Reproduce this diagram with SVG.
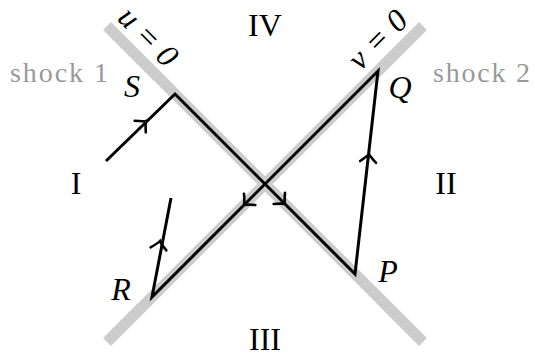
<svg xmlns="http://www.w3.org/2000/svg" xmlns:xlink="http://www.w3.org/1999/xlink" width="535" height="360" viewBox="0 0 535 360">
<style>
.band{stroke:#cccccc;stroke-width:11;fill:none}
.path{stroke:#000;stroke-width:3;fill:none;stroke-linejoin:miter;stroke-linecap:butt}
.ah{stroke:#000;stroke-width:2.6;fill:none;stroke-linecap:round}
.lab{font-family:'Liberation Serif','Times New Roman','DejaVu Serif',serif;font-size:32px;fill:#000}
.it{font-style:italic}
.shock{font-family:'Liberation Serif','Times New Roman','DejaVu Serif',serif;font-size:28px;fill:#999999}
</style>
<defs>
<path id="ah" d="M-8,-8 Q-2.5,-1.5 0,0 Q-2.5,1.5 -8,8"/>
</defs>
<g id="bands">
<line class="band" x1="107" y1="26" x2="423" y2="342"/>
<line class="band" x1="107" y1="342" x2="423" y2="26"/>
</g>
<g id="connectors">
<polyline class="path" points="106,161 175,94 355,274 378,71 152,297 171,198"/>
<g class="ah">
<use xlink:href="#ah" transform="translate(146,121) rotate(-44)"/>
<use xlink:href="#ah" transform="translate(285,204) rotate(45)"/>
<use xlink:href="#ah" transform="translate(244,205) rotate(135)"/>
<use xlink:href="#ah" transform="translate(369,154) rotate(-83.5)"/>
<use xlink:href="#ah" transform="translate(160,241) rotate(-79)"/>
</g>
</g>
<g id="shock1"><text class="shock" x="10" y="82" textLength="98" lengthAdjust="spacing">shock 1</text></g>
<g id="shock2"><text class="shock" x="433" y="82" textLength="97" lengthAdjust="spacing">shock 2</text></g>
<g id="u0"><text class="lab it" transform="translate(148,37) rotate(45)" x="0" y="10" text-anchor="middle" textLength="70" lengthAdjust="spacing">u = 0</text></g>
<g id="v0"><text class="lab it" transform="translate(378,40) rotate(-45)" x="0" y="10" text-anchor="middle" textLength="70" lengthAdjust="spacing">v = 0</text></g>
<g id="IV"><text class="lab" x="265" y="36" text-anchor="middle">IV</text></g>
<g id="III"><text class="lab" x="265" y="350" text-anchor="middle">III</text></g>
<g id="I"><text class="lab" x="76" y="194" text-anchor="middle">I</text></g>
<g id="II"><text class="lab" x="446" y="194" text-anchor="middle">II</text></g>
<g id="S"><text class="lab it" x="132" y="97" text-anchor="middle">S</text></g>
<g id="Q"><text class="lab it" x="400" y="98" text-anchor="middle">Q</text></g>
<g id="R"><text class="lab it" x="121" y="300" text-anchor="middle">R</text></g>
<g id="P"><text class="lab it" x="388" y="282" text-anchor="middle">P</text></g>
</svg>
